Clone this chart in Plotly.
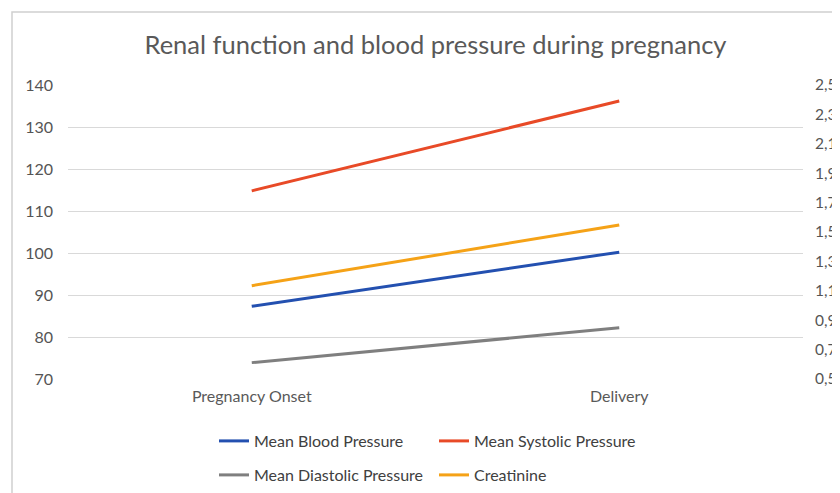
import plotly.graph_objects as go

categories = ["Pregnancy Onset", "Delivery"]
mean_bp = [87.3, 100.2]
mean_systolic = [114.8, 136.2]
mean_diastolic = [73.9, 82.2]
creatinine = [1.135, 1.548]

left_ticks = [70, 80, 90, 100, 110, 120, 130, 140]
right_ticks = [0.5, 0.7, 0.9, 1.1, 1.3, 1.5, 1.7, 1.9, 2.1, 2.3, 2.5]

FONT = "Lato"
OFF = 8  # default page body margin

fig = go.Figure()
fig.add_trace(go.Scatter(x=categories, y=mean_bp, name="Mean Blood Pressure", mode="lines",
                         line=dict(color="#2350B0", width=3), legend="legend"))
fig.add_trace(go.Scatter(x=categories, y=mean_systolic, name="Mean Systolic Pressure", mode="lines",
                         line=dict(color="#E84A27", width=3), legend="legend"))
fig.add_trace(go.Scatter(x=categories, y=mean_diastolic, name="Mean Diastolic Pressure", mode="lines",
                         line=dict(color="#7F7F7F", width=3), legend="legend2"))
fig.add_trace(go.Scatter(x=categories, y=creatinine, name="Creatinine", mode="lines", yaxis="y2",
                         line=dict(color="#F5A217", width=3), legend="legend2"))

W, H = 840 - OFF, 493 - OFF
# plot area in page pixels: x 68..803, y 85..379
L = 68 - OFF
T = 85 - OFF
R = W - (803 - OFF)
B = H - (379 - OFF)
pw, ph = W - L - R, H - T - B


def px(x_page):
    return (x_page - OFF - L) / pw


def py(y_page):
    return (H - B - (y_page - OFF)) / ph


fig.update_layout(
    width=W, height=H,
    margin=dict(l=L, r=R, t=T, b=B, autoexpand=False),
    paper_bgcolor="white", plot_bgcolor="white",
    separators=",.",
    font=dict(family=FONT, color="#595959"),
    title=dict(text="Renal function and blood pressure during pregnancy",
               x=0.5, xref="paper", xanchor="center", y=1 - (45 - OFF) / H, yanchor="middle",
               font=dict(family=FONT, size=25.5, color="#595959")),
    xaxis=dict(range=[-0.5, 1.5], showgrid=False, zeroline=False, showline=False,
               ticks="", tickfont=dict(size=16, color="#595959"), fixedrange=True,
               ticklabelstandoff=6),
    yaxis=dict(range=[70, 140], tickvals=left_ticks, showgrid=True, gridcolor="#D9D9D9",
               gridwidth=1, zeroline=False, showline=False, ticks="",
               tickfont=dict(size=16, color="#555555"), ticklabelstandoff=14),
    yaxis2=dict(range=[0.5, 2.5], tickvals=right_ticks, tickformat=".1f", overlaying="y",
                side="right", showgrid=False, zeroline=False, showline=False, ticks="",
                tickfont=dict(size=15.5, color="#555555"), ticklabelstandoff=11),
    legend=dict(orientation="h", x=px(214), xanchor="left", y=py(441), yanchor="middle",
                entrywidth=175, entrywidthmode="pixels", font=dict(size=16, color="#404040"),
                bgcolor="rgba(0,0,0,0)", itemwidth=30),
    legend2=dict(orientation="h", x=px(214), xanchor="left", y=py(475), yanchor="middle",
                 entrywidth=175, entrywidthmode="pixels", font=dict(size=16, color="#404040"),
                 bgcolor="rgba(0,0,0,0)", itemwidth=30),
    shapes=[dict(type="rect", xref="paper", yref="paper",
                 x0=px(12), x1=px(860), y0=py(510), y1=py(12),
                 line=dict(color="#D0D0D0", width=1.5), fillcolor="rgba(0,0,0,0)", layer="below")],
)

fig.write_html("out.html")
